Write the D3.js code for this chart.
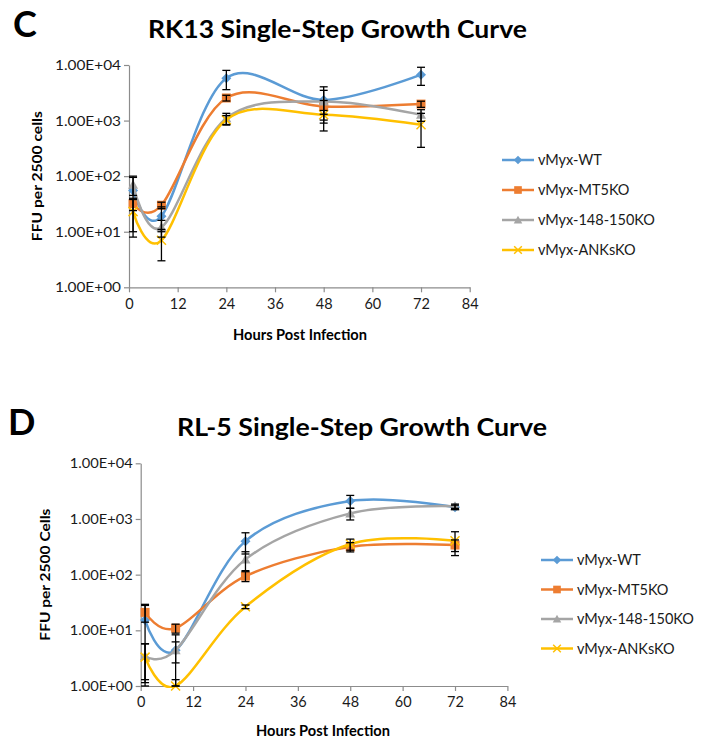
<!DOCTYPE html>
<html>
<head>
<meta charset="utf-8">
<script src="https://cdn.jsdelivr.net/npm/d3@7"></script>
<style>
  html, body { margin: 0; padding: 0; background: #fff; }
  svg { display: block; font-family: Lato, "Open Sans", sans-serif; }
</style>
</head>
<body>
<svg id="chart" width="701" height="746"></svg>
<script>
// ---------------- data ----------------
const hours = [1, 8, 24, 48, 72];
const seriesNames = ["vMyx-WT", "vMyx-MT5KO", "vMyx-148-150KO", "vMyx-ANKsKO"];
const seriesColors = ["#5B9BD5", "#ED7D31", "#A5A5A5", "#FFC000"];
const seriesMarkers = ["diamond", "square", "triangle", "cross"];
const xTickValues = [0, 12, 24, 36, 48, 60, 72, 84];
const yTickValues = [1, 10, 100, 1000, 10000];
const yTickLabels = ["1.00E+00", "1.00E+01", "1.00E+02", "1.00E+03", "1.00E+04"];

// RK13 (panel C)
const rk13WT       = [55, 19, 5800, 2350, 6700];
const rk13WTErr    = [45, 9, 2200, 1700, 2400];
const rk13MT5      = [32, 30, 2550, 1800, 1980];
const rk13MT5Err   = [8, 4, 300, 500, 250];
const rk13KO148    = [70, 12, 1100, 2200, 1270];
const rk13KO148Err = [25, 4, 250, 1300, 300];
const rk13ANKs     = [23, 7, 1030, 1270, 840];
const rk13ANKsErr  = [15, 4, 200, 250, 510];

// RL-5 (panel D)
const rl5WT       = [15.3, 4.4, 400, 2100, 1620];
const rl5WTErr    = [14, 1.8, 165, 550, 150];
const rl5MT5      = [21, 10.9, 94, 316, 340];
const rl5MT5Err   = [7, 2, 19, 60, 80];
const rl5KO148    = [3.45, 4.4, 188, 1260, 1700];
const rl5KO148Err = [2.3, 3.9, 70, 300, 150];
const rl5ANKs     = [3.3, 1.0, 26.5, 355, 405];
const rl5ANKsErr  = [2.4, 0.3, 2, 80, 185];

// ---------------- drawing ----------------
const svg = d3.select("#chart");

function drawPanel(cfg) {
  const g = svg.append("g");
  const x = d3.scaleLinear().domain([0, 84]).range([cfg.x0, cfg.x1]);
  const y = d3.scaleLog().domain([1, 10000]).range([cfg.y0, cfg.y1]);

  // panel letter
  g.append("text").attr("x", cfg.letterX).attr("y", cfg.letterY)
    .attr("font-size", 36).attr("font-weight", "bold")
    .attr("fill", "#000").text(cfg.letter);

  // title
  g.append("text").attr("x", cfg.titleX).attr("y", cfg.titleY)
    .attr("font-size", cfg.titleSize).attr("font-weight", "bold")
    .attr("textLength", cfg.titleLen).attr("lengthAdjust", "spacingAndGlyphs")
    .attr("fill", "#000").text(cfg.title);

  // axes
  const axisColor = "#8C8C8C";
  const yAxis = d3.axisLeft(y).tickValues(yTickValues)
    .tickFormat((d, i) => yTickLabels[i]).tickSize(5).tickSizeOuter(0);
  const gy = g.append("g").attr("transform", `translate(${cfg.x0},0)`).call(yAxis);
  const xAxis = d3.axisBottom(x).tickValues(xTickValues).tickSize(5).tickSizeOuter(0);
  const gx = g.append("g").attr("transform", `translate(0,${cfg.y0})`).call(xAxis);
  [gx, gy].forEach(a => {
    a.select(".domain").attr("stroke", axisColor).attr("stroke-width", 1.2);
    a.selectAll(".tick line").attr("stroke", axisColor).attr("stroke-width", 1.2);
    a.selectAll(".tick text").attr("fill", "#1a1a1a").attr("font-family", "Lato, sans-serif");
  });
  gy.selectAll(".tick text").attr("font-size", 14).attr("x", -8)
    .attr("textLength", cfg.yLabelLen).attr("lengthAdjust", "spacingAndGlyphs");
  gx.selectAll(".tick text").attr("font-size", 14.5).attr("y", 11);

  // axis titles
  g.append("text").attr("x", (cfg.xTitleX)).attr("y", cfg.xTitleY)
    .attr("text-anchor", "middle").attr("font-size", 14.5).attr("font-weight", "bold")
    .attr("textLength", 134).attr("lengthAdjust", "spacingAndGlyphs")
    .attr("fill", "#000").text("Hours Post Infection");
  g.append("text")
    .attr("transform", `translate(${cfg.yTitleX},${(cfg.y0 + cfg.y1) / 2}) rotate(-90)`)
    .attr("text-anchor", "middle").attr("font-size", 13).attr("font-weight", "bold")
    .attr("textLength", cfg.yTitleLen).attr("lengthAdjust", "spacingAndGlyphs")
    .attr("fill", "#000").text(cfg.yTitle);

  const clipId = "clip" + cfg.letter;
  g.append("clipPath").attr("id", clipId).append("rect")
    .attr("x", cfg.x0).attr("y", cfg.y1 - 10).attr("width", cfg.x1 - cfg.x0 + 10)
    .attr("height", cfg.y0 - cfg.y1 + 12);

  const line = d3.line().x(d => x(d[0])).y(d => y(d[1])).curve(d3.curveCatmullRom.alpha(0));

  cfg.series.forEach((vals, si) => {
    const pts = hours.map((h, i) => [h, vals[i]]);
    const col = seriesColors[si];
    g.append("path").attr("d", line(pts)).attr("fill", "none")
      .attr("stroke", col).attr("stroke-width", 2.5).attr("clip-path", `url(#${clipId})`);
    pts.forEach(p => drawMarker(g, seriesMarkers[si], x(p[0]), y(p[1]), col));
  });

  // error bars
  cfg.series.forEach((vals, si) => {
    const errs = cfg.errors[si];
    hours.forEach((h, i) => {
      const hi = vals[i] + errs[i];
      const lo = Math.max(1, vals[i] - errs[i]);
      const cx = x(h);
      const eb = g.append("g").attr("stroke", "#000").attr("stroke-width", 1.3);
      eb.append("line").attr("x1", cx).attr("x2", cx).attr("y1", y(hi)).attr("y2", y(lo));
      eb.append("line").attr("x1", cx - 4).attr("x2", cx + 4).attr("y1", y(hi)).attr("y2", y(hi));
      eb.append("line").attr("x1", cx - 4).attr("x2", cx + 4).attr("y1", y(lo)).attr("y2", y(lo));
    });
  });

  // legend
  seriesNames.forEach((name, i) => {
    const ly = cfg.legendY + i * cfg.legendStep;
    g.append("line").attr("x1", cfg.legendX).attr("x2", cfg.legendX + 32)
      .attr("y1", ly).attr("y2", ly).attr("stroke", seriesColors[i]).attr("stroke-width", 2.5);
    drawMarker(g, seriesMarkers[i], cfg.legendX + 16, ly, seriesColors[i], 0.85);
    g.append("text").attr("x", cfg.legendX + 36).attr("y", ly + 5)
      .attr("font-size", 14.5).attr("fill", "#1a1a1a").text(name);
  });
}

function drawMarker(g, type, cx, cy, col, k = 1) {
  if (type === "diamond") {
    const r = 5 * k;
    g.append("path").attr("d", `M${cx},${cy - r}L${cx + r},${cy}L${cx},${cy + r}L${cx - r},${cy}Z`)
      .attr("fill", col);
  } else if (type === "square") {
    const r = 4.5 * k;
    g.append("rect").attr("x", cx - r).attr("y", cy - r).attr("width", 2 * r).attr("height", 2 * r)
      .attr("fill", col);
  } else if (type === "triangle") {
    const r = 5 * k;
    g.append("path").attr("d", `M${cx},${cy - r}L${cx + r},${cy + r * 0.8}L${cx - r},${cy + r * 0.8}Z`)
      .attr("fill", col);
  } else {
    const r = 4.5 * k;
    g.append("path").attr("d", `M${cx - r},${cy - r}L${cx + r},${cy + r}M${cx - r},${cy + r}L${cx + r},${cy - r}`)
      .attr("stroke", col).attr("stroke-width", 1.5).attr("fill", "none");
  }
}

drawPanel({
  letter: "C", letterX: 13, letterY: 37,
  title: "RK13 Single-Step Growth Curve", titleX: 148, titleY: 38, titleSize: 25, titleLen: 379,
  x0: 129, x1: 469.7, y0: 287.3, y1: 65,
  xTitleX: 300, xTitleY: 340, yTitleX: 42, yTitle: "FFU per 2500 cells", yTitleLen: 130,
  yLabelLen: 66,
  series: [rk13WT, rk13MT5, rk13KO148, rk13ANKs],
  errors: [rk13WTErr, rk13MT5Err, rk13KO148Err, rk13ANKsErr],
  legendX: 502, legendY: 160, legendStep: 30
});

drawPanel({
  letter: "D", letterX: 8, letterY: 435,
  title: "RL-5 Single-Step Growth Curve", titleX: 177, titleY: 436, titleSize: 25, titleLen: 370,
  x0: 140.7, x1: 507.4, y0: 686, y1: 463.3,
  xTitleX: 323, xTitleY: 736, yTitleX: 50, yTitle: "FFU per 2500 Cells", yTitleLen: 132,
  yLabelLen: 63,
  series: [rl5WT, rl5MT5, rl5KO148, rl5ANKs],
  errors: [rl5WTErr, rl5MT5Err, rl5KO148Err, rl5ANKsErr],
  legendX: 541, legendY: 560, legendStep: 29.5
});
</script>
</body>
</html>
